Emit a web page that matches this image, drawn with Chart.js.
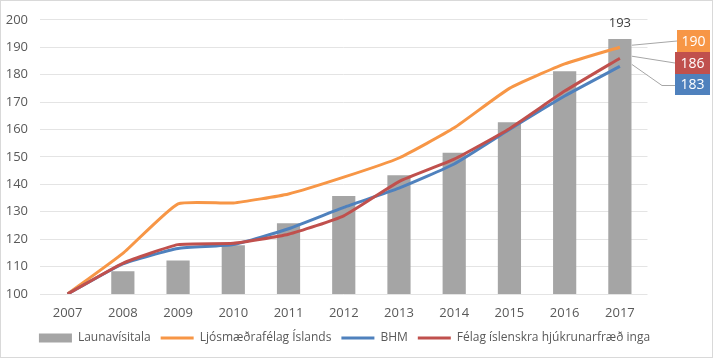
<!DOCTYPE html>
<html>
<head>
<meta charset="utf-8">
<script src="https://cdn.jsdelivr.net/npm/chart.js@4.4.0/dist/chart.umd.min.js"></script>
<style>
  html, body { margin: 0; padding: 0; background: #fff; }
  #wrap { width: 713px; height: 358px; position: relative; }
</style>
</head>
<body>
<div id="wrap"><canvas id="c" width="713" height="358"></canvas></div>
<script>
const years = ['2007','2008','2009','2010','2011','2012','2013','2014','2015','2016','2017'];
const launavisitala = [100, 108.3, 112.2, 117.8, 125.8, 135.7, 143.3, 151.5, 162.6, 181.2, 193];
const ljosmaedrafelag = [100, 114.8, 132.9, 133.2, 136.5, 142.6, 149.6, 160.6, 175.0, 183.9, 190];
const bhm = [100, 111.0, 116.6, 118.0, 123.8, 131.6, 138.6, 147.4, 160.0, 172.2, 183];
const felag = [100, 111.2, 118.0, 118.5, 121.8, 128.5, 141.0, 149.2, 160.3, 174.0, 186];
const seriesNames = ['Launavísitala', 'Ljósmæðrafélag Íslands', 'BHM', 'Félag íslenskra hjúkrunarfræð inga'];
const yTicks = [100, 110, 120, 130, 140, 150, 160, 170, 180, 190, 200];

const C_GRAY = '#A5A5A5', C_ORANGE = '#F79646', C_BLUE = '#4F81BD', C_RED = '#C0504D';
const FONT = "'Open Sans', 'Noto Sans', sans-serif";

const overlay = {
  id: 'overlay',
  afterDatasetsDraw(chart) {
    const ctx = chart.ctx;
    const xs = chart.scales.x, ys = chart.scales.y;
    const last = years.length - 1;
    const px = xs.getPixelForValue(last);
    ctx.save();
    ctx.font = "13px " + FONT;
    ctx.fillStyle = '#404040';
    ctx.textAlign = 'center';
    ctx.textBaseline = 'middle';
    ctx.fillText(String(launavisitala[last]), px, ys.getPixelForValue(launavisitala[last]) - 16);
    const boxes = [
      { v: ljosmaedrafelag[last], c: C_ORANGE, x: 677, y: 30, w: 33, h: 22 },
      { v: felag[last], c: C_RED, x: 675, y: 52, w: 35, h: 22 },
      { v: bhm[last], c: C_BLUE, x: 675, y: 74, w: 35, h: 21 }
    ];
    ctx.strokeStyle = '#A6A6A6';
    ctx.lineWidth = 1;
    boxes.forEach((b, i) => {
      const sx = px + 12, sy = ys.getPixelForValue(b.v) - 2;
      ctx.beginPath();
      ctx.moveTo(sx, sy);
      if (i === 2) { ctx.lineTo(b.x - 13, b.y + b.h / 2 + 1); }
      ctx.lineTo(b.x, b.y + b.h / 2 + (i === 2 ? 1 : 0));
      ctx.stroke();
    });
    boxes.forEach(b => {
      ctx.fillStyle = b.c;
      ctx.fillRect(b.x, b.y, b.w, b.h);
      ctx.fillStyle = '#FFFFFF';
      ctx.font = "14px " + FONT;
      ctx.fillText(String(b.v), b.x + b.w / 2, b.y + b.h / 2 + 1);
    });
    ctx.strokeStyle = '#D9D9D9';
    ctx.strokeRect(0.5, 0.5, 712, 357);
    ctx.restore();
  }
};

new Chart(document.getElementById('c'), {
  type: 'bar',
  data: {
    labels: years,
    datasets: [
      { type: 'bar', label: seriesNames[0], data: launavisitala, backgroundColor: C_GRAY,
        categoryPercentage: 1, barPercentage: 0.42, order: 10 },
      { type: 'line', label: seriesNames[1], data: ljosmaedrafelag, borderColor: C_ORANGE, backgroundColor: C_ORANGE,
        borderWidth: 3, pointRadius: 0, tension: 0.15, order: 3 },
      { type: 'line', label: seriesNames[2], data: bhm, borderColor: C_BLUE, backgroundColor: C_BLUE,
        borderWidth: 3, pointRadius: 0, tension: 0.15, order: 2 },
      { type: 'line', label: seriesNames[3], data: felag, borderColor: C_RED, backgroundColor: C_RED,
        borderWidth: 3, pointRadius: 0, tension: 0.15, order: 1 }
    ]
  },
  options: {
    responsive: false,
    animation: false,
    layout: { padding: { left: 5, right: 29, top: 19, bottom: 4 } },
    plugins: {
      tooltip: { enabled: false },
      legend: {
        position: 'bottom',
        labels: {
          sort: (a, b) => a.datasetIndex - b.datasetIndex,
          usePointStyle: true,
          pointStyleWidth: 33,
          boxWidth: 33,
          boxHeight: 9,
          padding: 10,
          color: '#595959',
          font: { family: FONT, size: 12 },
          generateLabels(chart) {
            return chart.data.datasets.map((d, i) => ({
              text: d.label,
              fillStyle: d.type === 'bar' ? d.backgroundColor : d.borderColor,
              strokeStyle: d.type === 'bar' ? d.backgroundColor : d.borderColor,
              lineWidth: d.type === 'bar' ? 0 : 3,
              pointStyle: d.type === 'bar' ? 'rect' : 'line',
              hidden: false,
              datasetIndex: i,
              fontColor: '#595959'
            }));
          }
        }
      }
    },
    scales: {
      x: {
        offset: true,
        grid: { display: false, drawTicks: false },
        border: { display: false },
        ticks: { color: '#595959', font: { family: FONT, size: 13 }, padding: 11, maxRotation: 0 },
        afterFit(s) { s.height = 28; }
      },
      y: {
        min: 100, max: 200,
        afterBuildTicks(s) { s.ticks = yTicks.map(v => ({ value: v })); },
        grid: { color: '#E4E4E4', lineWidth: 1, drawTicks: false },
        border: { display: false },
        ticks: { color: '#595959', font: { family: FONT, size: 13 }, padding: 12 },
        afterFit(s) { s.width = 35; }
      },
      yr: {
        position: 'right',
        display: true,
        min: 100, max: 200,
        grid: { display: false, drawTicks: false },
        border: { display: false },
        ticks: { display: false },
        afterFit(s) { s.width = 36.5; }
      }
    }
  },
  plugins: [overlay]
});
</script>
</body>
</html>
